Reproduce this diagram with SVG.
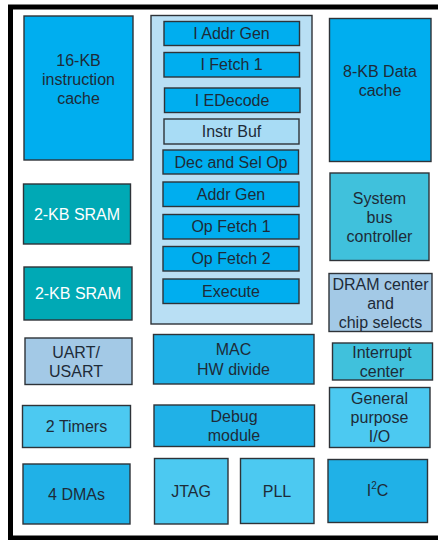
<svg xmlns="http://www.w3.org/2000/svg" width="438" height="540" viewBox="0 0 438 540">
<style>
rect.b{stroke:#2e3338;stroke-width:1.4}
text{font-family:"Liberation Sans",Arial,sans-serif;font-size:16px;fill:#1e2b38;text-anchor:middle}
text.w{fill:#ffffff}
.c1{fill:#00aeef}
.c2{fill:#20b1e7}
.c3{fill:#4cc9f1}
.c4{fill:#00a9b5}
.c5{fill:#40c1dc}
.c6{fill:#a3c9e6}
.c7{fill:#a8dcf5}
</style>
<rect width="438" height="540" fill="#ffffff"/>
<rect x="10.5" y="7" width="440" height="531" fill="none" stroke="#000000" stroke-width="5"/>

<g id="icache"><rect class="b c1" x="24" y="16" width="109" height="144"/>
<text x="78.5" y="66">16-KB</text><text x="78.5" y="85">instruction</text><text x="78.5" y="104">cache</text></g>

<g id="pipeline"><rect class="b" x="151" y="15.5" width="161" height="308.5" fill="#b9dff4"/>
<g id="s1"><rect class="b c1" x="164" y="21.5" width="135.5" height="24"/><text x="231.5" y="39">I Addr Gen</text></g>
<g id="s2"><rect class="b c1" x="164" y="52.5" width="135.5" height="24.5"/><text x="231.5" y="70">I Fetch 1</text></g>
<g id="s3"><rect class="b c1" x="164.5" y="88" width="135.5" height="24.5"/><text x="232" y="105.5">I EDecode</text></g>
<g id="s4"><rect class="b c7" x="164" y="119" width="135" height="25"/><text x="231.5" y="137">Instr Buf</text></g>
<g id="s5"><rect class="b c1" x="163" y="150" width="135.5" height="24"/><text x="231" y="167.5">Dec and Sel Op</text></g>
<g id="s6"><rect class="b c1" x="163" y="182" width="136" height="24.5"/><text x="231" y="199.5">Addr Gen</text></g>
<g id="s7"><rect class="b c1" x="163" y="214.5" width="136" height="24.5"/><text x="231" y="232">Op Fetch 1</text></g>
<g id="s8"><rect class="b c1" x="163" y="246.5" width="136" height="24.5"/><text x="231" y="264">Op Fetch 2</text></g>
<g id="s9"><rect class="b c1" x="163" y="279" width="136" height="24.5"/><text x="231" y="296.5">Execute</text></g>
</g>

<g id="dcache"><rect class="b c1" x="329.5" y="18.5" width="101.5" height="143"/>
<text x="380" y="76.5">8-KB Data</text><text x="380" y="96">cache</text></g>

<g id="sram1"><rect class="b c4" x="23.5" y="184" width="107" height="60"/><text class="w" x="77" y="219.5">2-KB SRAM</text></g>
<g id="sram2"><rect class="b c4" x="24" y="267" width="108" height="53"/><text class="w" x="78" y="299">2-KB SRAM</text></g>

<g id="sysbus"><rect class="b c5" x="330" y="173" width="99" height="87.5"/>
<text x="379.5" y="204">System</text><text x="379.5" y="223">bus</text><text x="379.5" y="242">controller</text></g>

<g id="dram"><rect class="b c6" x="329" y="273.5" width="103" height="58"/>
<text x="380.5" y="290">DRAM center</text><text x="380.5" y="308.5">and</text><text x="380.5" y="327.5">chip selects</text></g>

<g id="uart"><rect class="b c6" x="25" y="338" width="107" height="46.5"/>
<text x="76" y="357.5">UART/</text><text x="76" y="377">USART</text></g>

<g id="mac"><rect class="b c2" x="153.5" y="334.5" width="160.5" height="49.5"/>
<text x="233.5" y="355">MAC</text><text x="233.5" y="374.5">HW divide</text></g>

<g id="interrupt"><rect class="b c5" x="332.5" y="343" width="100" height="37"/>
<text x="382" y="357.5">Interrupt</text><text x="382" y="377">center</text></g>

<g id="timers"><rect class="b c3" x="22.5" y="405.5" width="108" height="42"/><text x="76.5" y="432">2 Timers</text></g>

<g id="debug"><rect class="b c2" x="154" y="405" width="160.5" height="41.5"/>
<text x="234" y="421.5">Debug</text><text x="234" y="441">module</text></g>

<g id="gpio"><rect class="b c3" x="329.5" y="387.5" width="100.5" height="60"/>
<text x="379.5" y="404">General</text><text x="379.5" y="423">purpose</text><text x="379.5" y="442">I/O</text></g>

<g id="dma"><rect class="b c2" x="23" y="464" width="107" height="60"/><text x="76.5" y="500">4 DMAs</text></g>

<g id="jtag"><rect class="b c3" x="154.5" y="458.5" width="73.5" height="65.5"/><text x="191" y="497">JTAG</text></g>

<g id="pll"><rect class="b c3" x="240.5" y="458.5" width="73.5" height="65"/><text x="277" y="497">PLL</text></g>

<g id="i2c"><rect class="b c2" x="328" y="459.5" width="99.5" height="63"/>
<text x="377.5" y="496">I<tspan font-size="10px" dy="-7">2</tspan><tspan dy="7">C</tspan></text></g>

<g id="connectors"></g>
</svg>
